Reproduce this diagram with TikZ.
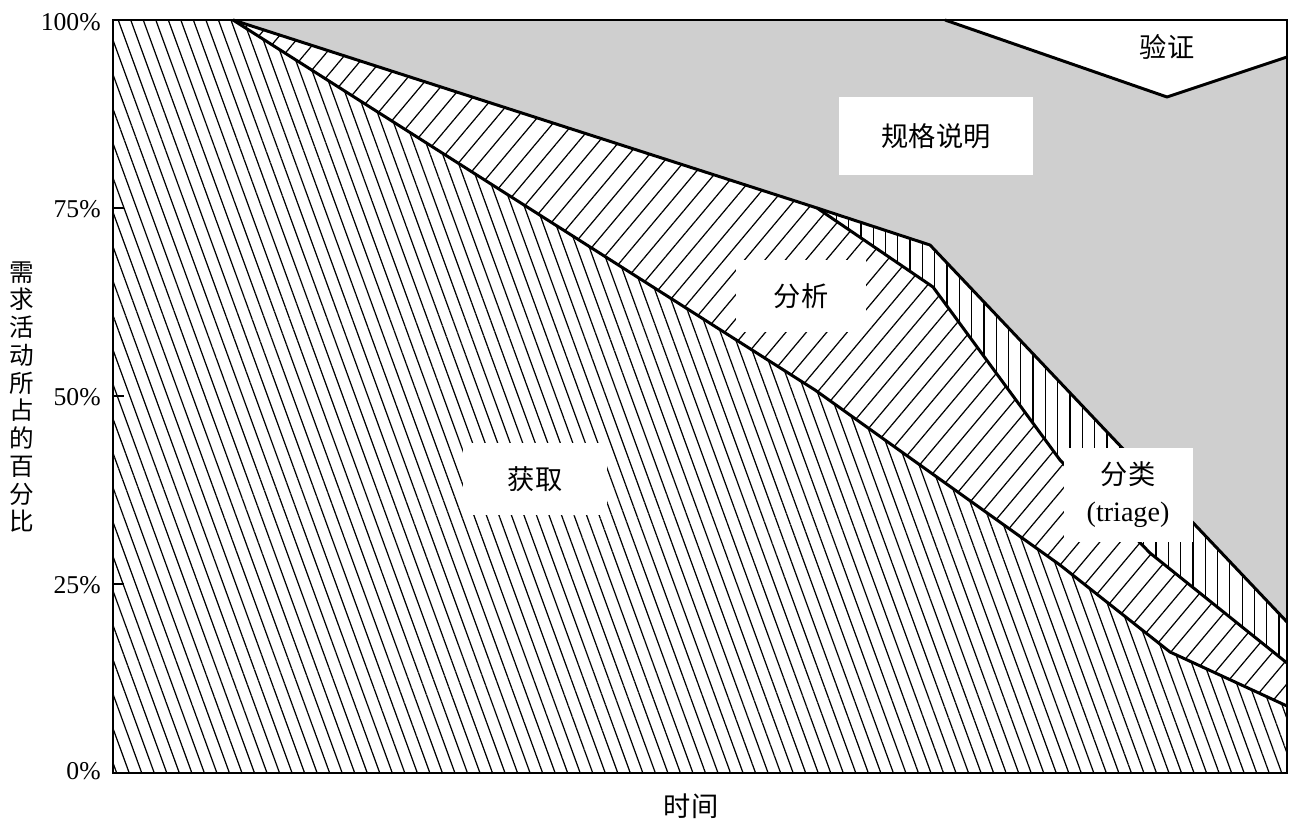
\documentclass[tikz,border=0pt]{standalone}
\usepackage{fontspec}
\setmainfont{Liberation Serif}
\newfontfamily\cjk{Noto Sans CJK SC}
\usetikzlibrary{patterns.meta}

\begin{document}
\begin{tikzpicture}[x=0.02cm,y=-0.02cm]
   \tikzstyle{elicit}=[preaction={fill=white}, pattern={Lines[angle=-70,distance=6.7pt,line width=0.7pt]}]
   \tikzstyle{analyse}=[preaction={fill=white}, pattern={Lines[angle=50,distance=8.9pt,line width=0.7pt]}]
   \tikzstyle{sortout}=[preaction={fill=white}, pattern={Lines[angle=90,distance=7pt,line width=0.7pt]}]
   \tikzstyle{boundary}=[line width=1.7pt, line join=round]
   \tikzstyle{labelbox}=[fill=white, inner sep=0pt, align=center, font=\cjk\fontsize{15.5pt}{21pt}\selectfont]
   \tikzstyle{pct}=[anchor=east, inner sep=0pt, font=\fontsize{14.6pt}{16pt}\selectfont]

\useasboundingbox (0,0) rectangle (1301,831);

\coordinate (tl) at (113,20);
\coordinate (tr) at (1287,20);
\coordinate (br) at (1287,773);
\coordinate (bl) at (113,773);
\coordinate (start) at (233,20);
\coordinate (e1) at (815,390);
\coordinate (e2) at (1060,565);
\coordinate (e3) at (1170,652);
\coordinate (e4) at (1287,706);
\coordinate (fork) at (817,208);
\coordinate (a1) at (933,287);
\coordinate (a2) at (1060,460);
\coordinate (a3) at (1150,553);
\coordinate (a4) at (1287,663);
\coordinate (t1) at (930,245);
\coordinate (t2) at (1287,622);
\coordinate (v0) at (945,20);
\coordinate (v1) at (1167,97);
\coordinate (v2) at (1287,57);

\fill[black!19] (tl) rectangle (br);
\fill[white] (v0) -- (v1) -- (v2) -- (tr) -- cycle;
\fill[elicit] (tl) -- (start) -- (e1) -- (e2) -- (e3) -- (e4) -- (br) -- (bl) -- cycle;
\fill[analyse] (start) -- (fork) -- (a1) -- (a2) -- (a3) -- (a4) -- (e4) -- (e3) -- (e2) -- (e1) -- cycle;
\fill[sortout] (fork) -- (t1) -- (t2) -- (a4) -- (a3) -- (a2) -- (a1) -- cycle;

\draw[boundary] (start) -- (e1) -- (e2) -- (e3) -- (e4);
\draw[boundary] (start) -- (fork) -- (a1) -- (a2) -- (a3) -- (a4);
\draw[boundary] (fork) -- (t1) -- (t2);
\draw[boundary] (v0) -- (v1) -- (v2);

\node[labelbox, minimum width=2.9cm, minimum height=1.46cm] (elic) at (535,479) {获取};
\node[labelbox, minimum width=2.6cm, minimum height=1.46cm] (anal) at (801,296) {分析};
\node[labelbox, minimum width=3.9cm, minimum height=1.56cm] (spec) at (936,136) {规格说明};
\node[labelbox, minimum width=2.58cm, minimum height=1.9cm] (tri) at (1128,495) {分类\\{\rmfamily\fontsize{16pt}{21pt}\selectfont (triage)}};
\node[inner sep=0pt, font=\cjk\fontsize{15.5pt}{18pt}\selectfont] (valid) at (1167,47) {验证};

\draw[line width=1.4pt] (tl) rectangle (br);
\foreach \y in {208,396,584}
    \draw[line width=1pt] (113,\y) -- (124,\y);
\foreach \y/\t in {22/100, 209/75, 397/50, 585/25, 771/0}
    \node[pct] (p\t) at (101,\y) {\t\%};

\node[align=center, font=\cjk\fontsize{14pt}{15.8pt}\selectfont] (ylab) at (22,397) {需\\求\\活\\动\\所\\占\\的\\百\\分\\比};
\node[font=\cjk\fontsize{15.5pt}{18pt}\selectfont] (xlab) at (691,806) {时间};

\end{tikzpicture}
\end{document}
